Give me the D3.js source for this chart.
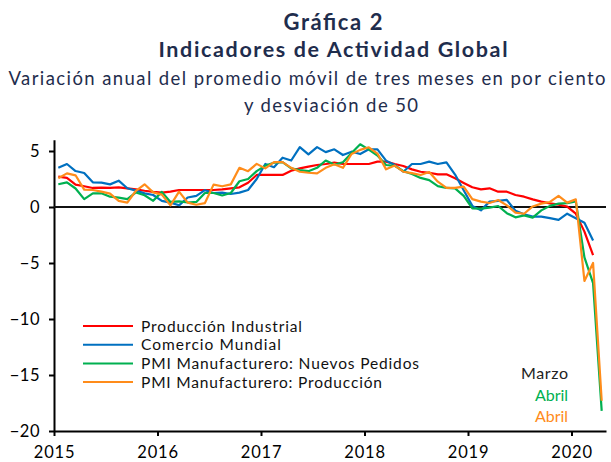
<!DOCTYPE html>
<html>
<head>
<meta charset="utf-8">
<script src="https://cdn.jsdelivr.net/npm/d3@7"></script>
<style>
  body { margin: 0; background: #fff; }
  svg text { font-family: Lato, "Open Sans", sans-serif; }
</style>
</head>
<body>
<svg id="chart" width="611" height="462"></svg>
<script>
// monthly data, Jan 2015 .. Apr 2020
var years = ["2015", "2016", "2017", "2018", "2019", "2020"];
var yTicks = [5, 0, -5, -10, -15, -20];

var produccionIndustrial = [2.71, 2.6, 2.0, 1.85, 1.7, 1.73, 1.7, 1.76, 1.67, 1.58, 1.45, 1.35,
  1.28, 1.37, 1.52, 1.52, 1.52, 1.52, 1.52, 1.58, 1.67, 1.76, 2.17, 2.86,
  2.86, 2.86, 2.86, 3.24, 3.45, 3.6, 3.75, 3.84, 3.96, 3.84, 3.84, 3.84,
  3.84, 4.05, 4.05, 3.84, 3.66, 3.36, 3.15, 3.06, 2.92, 2.92, 2.56, 2.15,
  1.76, 1.58, 1.67, 1.37, 1.37, 1.07, 0.92, 0.68, 0.48, 0.33, 0.21, 0.03,
  -0.6, -2.2, -4.3];
var comercioMundial = [3.5, 3.84, 3.21, 3.04, 2.2, 2.17, 2.02, 2.35, 1.67, 1.46, 1.22, 1.07,
  0.54, 0.39, 0.15, 0.85, 1.0, 1.5, 1.25, 1.28, 1.16, 1.28, 1.52, 2.5,
  3.84, 3.55, 4.4, 4.15, 5.35, 4.7, 5.35, 4.9, 5.15, 4.64, 4.94, 4.73,
  5.15, 5.15, 4.14, 3.75, 3.15, 3.84, 3.84, 4.05, 3.84, 3.99, 2.9, 1.5,
  0.1, -0.3, 0.48, 0.54, 0.63, -0.33, -0.65, -0.86, -0.86, -1.0, -1.15, -0.6,
  -1.0, -1.4, -3.0];
var nuevosPedidos = [2.03, 2.2, 1.65, 0.7, 1.22, 1.22, 0.92, 0.83, 0.7, 1.3, 1.05, 0.55,
  1.35, 0.45, 0.5, 0.4, 0.45, 1.25, 1.25, 1.03, 1.25, 2.3, 2.5, 3.2,
  3.7, 3.95, 4.0, 3.45, 3.3, 3.2, 3.5, 4.15, 3.8, 4.0, 4.83, 5.6,
  5.12, 4.6, 3.75, 3.68, 3.2, 2.95, 2.6, 2.4, 1.87, 1.7, 1.67, 1.0,
  -0.12, -0.15, -0.06, 0.09, -0.55, -0.92, -0.75, -0.95, -0.3, 0.1, 0.3, 0.35,
  0.5, -4.5, -6.8, -18.2];
var produccionPMI = [2.56, 3.0, 2.83, 1.55, 1.52, 1.37, 1.2, 0.54, 0.39, 1.45, 2.03, 1.31,
  1.1, 0.15, 1.37, 0.39, 0.2, 0.35, 2.0, 1.85, 2.02, 3.5, 3.2, 3.85,
  3.45, 4.0, 4.0, 3.5, 3.15, 3.06, 3.0, 3.5, 3.82, 3.5, 4.73, 5.1,
  5.33, 4.77, 3.36, 3.7, 3.15, 3.03, 2.86, 3.12, 2.26, 1.7, 1.7, 1.82,
  0.7, 0.48, 0.36, 0.62, 0.15, -0.5, -0.6, 0.05, 0.3, 0.45, 1.0, 0.39,
  0.68, -6.6, -5.0, -17.3];

var seriesNames = ["Producción Industrial", "Comercio Mundial",
  "PMI Manufacturero: Nuevos Pedidos", "PMI Manufacturero: Producción"];
var seriesColors = ["#ff0000", "#0070c0", "#00b050", "#ff8c1a"];
var seriesData = [produccionIndustrial, comercioMundial, nuevosPedidos, produccionPMI];

var endLabels = ["Marzo", "Abril", "Abril"];
var endColors = ["#222", "#00b050", "#ff8c1a"];

var svg = d3.select("#chart");
var navy = "#1f2d4d";

// titles (widths fitted to the original)
function title(txt, cx, cy, size, bold, w) {
  return svg.append("text").attr("x", cx).attr("y", cy).attr("text-anchor", "middle")
    .attr("textLength", w).attr("lengthAdjust", "spacing")
    .style("font-weight", bold ? "bold" : "normal").style("font-size", size + "px")
    .style("fill", navy).text(txt);
}
title("Gráfica 2", 333, 30, 22, true, 99);
title("Indicadores de Actividad Global", 333, 57, 21.5, true, 349);
var sub1 = title("Variación anual del promedio móvil de tres meses en por ciento", 307, 85, 18.5, false, 597);

// second subtitle line uses the same spacing as the first one
var tmp = svg.append("text").style("font-size", "18.5px").text(sub1.text());
var natural = tmp.node().getComputedTextLength();
tmp.remove();
var spacing = (597 - natural) / (sub1.text().length - 1);
svg.append("text").attr("x", 331 + spacing / 2).attr("y", 112).attr("text-anchor", "middle")
  .style("font-size", "18.5px").style("letter-spacing", spacing + "px")
  .style("fill", navy).text("y desviación de 50");

// scales
var nMonths = 64;
var x = d3.scaleLinear().domain([0, nMonths]).range([54, 606]);
var y = d3.scaleLinear().domain([-20, 6]).range([431, 139.8]);

// axes
var yAxis = d3.axisLeft(y).tickValues(yTicks).tickSizeInner(5).tickSizeOuter(0).tickPadding(9);
var gy = svg.append("g").attr("transform", "translate(54,0)").call(yAxis);
gy.selectAll("text").style("font-size", "16.5px").style("fill", "#000")
  .style("font-family", "Lato, sans-serif").style("letter-spacing", "0.5px");

var xAxis = d3.axisBottom(x).tickValues(years.map(function(d, i) { return i * 12; }))
  .tickFormat(function(d) { return years[d / 12]; })
  .tickSizeInner(5).tickSizeOuter(0).tickPadding(10);
var gx = svg.append("g").attr("transform", "translate(0,431)").call(xAxis);
gx.selectAll("text").style("font-size", "16.5px").style("fill", "#000")
  .style("font-family", "Lato, sans-serif").style("letter-spacing", "0.8px");

svg.selectAll(".domain, .tick line").style("stroke", "#000").style("stroke-width", 2);

// zero line
svg.append("line").attr("x1", x(0)).attr("x2", x(nMonths))
  .attr("y1", y(0)).attr("y2", y(0))
  .style("stroke", "#111").style("stroke-width", 2.2);

// series
var line = d3.line()
  .x(function(d, i) { return x(i + 0.5); })
  .y(function(d) { return y(d); });

seriesData.forEach(function(s, k) {
  svg.append("path").datum(s)
    .attr("d", line)
    .style("fill", "none")
    .style("stroke", seriesColors[k])
    .style("stroke-width", 2.2)
    .style("stroke-linejoin", "round");
});

// legend
var legendW = [161, 140, 278, 241];
var legend = svg.append("g").attr("transform", "translate(83,326)");
seriesNames.forEach(function(name, k) {
  var row = legend.append("g").attr("transform", "translate(0," + (k * 18.7) + ")");
  row.append("line").attr("x1", 0).attr("x2", 50).attr("y1", 0).attr("y2", 0)
    .style("stroke", seriesColors[k]).style("stroke-width", 2);
  row.append("text").attr("x", 58).attr("y", 5.5)
    .attr("textLength", legendW[k]).attr("lengthAdjust", "spacing")
    .style("font-size", "15.5px").style("fill", "#111")
    .text(name);
});

// end labels
var endW = [47, 33, 33];
endLabels.forEach(function(t, k) {
  svg.append("text").attr("x", 568).attr("y", 379 + k * 21.5)
    .attr("text-anchor", "end")
    .attr("textLength", endW[k]).attr("lengthAdjust", "spacing")
    .style("font-size", "16px").style("fill", endColors[k])
    .text(t);
});
</script>
</body>
</html>
